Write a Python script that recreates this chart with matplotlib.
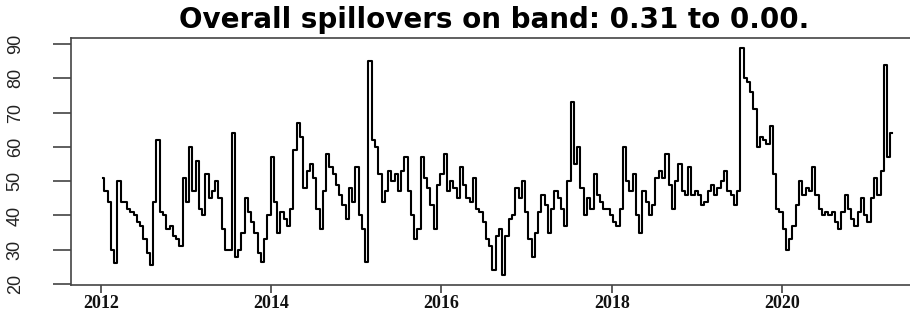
import matplotlib
matplotlib.use("Agg")
import matplotlib.pyplot as plt
import pandas as pd

# biweekly readings of the overall spillover index
spill = [51, 47, 44, 30, 26, 50, 44, 44, 42, 41,
         40, 38, 37, 33, 29, 25.5, 44, 62, 41, 40,
         36, 37, 34, 33, 31, 51, 44, 60, 47, 56,
         42, 40, 52, 45, 47, 50, 45, 36, 30, 30,
         64, 28, 30, 35, 45, 41, 38, 35, 29, 26.5,
         33, 40, 57, 44, 35, 41, 39, 37, 42, 59,
         67, 63, 48, 53, 55, 51, 42, 36, 47, 58,
         54, 52, 49, 46, 43, 39, 48, 44, 54, 40,
         36, 26.5, 85, 62, 60, 52, 44, 47, 53, 50,
         52, 47, 53, 57, 47, 40, 33, 36, 57, 51,
         48, 43, 36, 49, 52, 58, 47, 50, 48, 45,
         54, 49, 45, 44, 51, 42, 41, 38, 33, 31,
         24, 34, 36, 22.5, 34, 39, 40, 48, 45, 50,
         41, 33, 28, 35, 41, 46, 43, 35, 42, 47,
         45, 42, 37, 50, 73, 55, 60, 48, 40, 45,
         42, 52, 46, 44, 42, 42, 40, 38, 37, 42,
         60, 50, 47, 52, 40, 35, 47, 44, 40, 43,
         51, 53, 51, 58, 49, 42, 50, 55, 47, 46,
         54, 46, 47, 46, 43, 44, 47, 49, 46, 48,
         50, 53, 47, 46, 43, 47, 89, 80, 79, 76,
         71, 60, 63, 62, 61, 66, 52, 42, 41, 36,
         30, 33, 37, 43, 50, 46, 48, 47, 54, 46,
         42, 40, 41, 40, 41, 38, 36, 41, 46, 42,
         39, 37, 41, 45, 40, 38, 45, 51, 46, 53,
         84, 57, 64]

dates = pd.date_range("2012-01-08", periods=len(spill), freq="14D")
yticks = [20, 30, 40, 50, 60, 70, 80, 90]
xyears = [2012, 2014, 2016, 2018, 2020]

fig = plt.figure(figsize=(9.10, 3.18), dpi=100)
# right side of the frame is cut off in the original picture
ax = fig.add_axes([71 / 910, 1 - 285 / 318, 851 / 910, 247 / 318])

ax.plot(dates, spill, color="black", lw=1.5, drawstyle="steps-mid")

ax.set_ylim(19.7, 91.8)
ax.set_xlim(pd.Timestamp("2011-08-25"), pd.Timestamp("2021-08-25"))

ax.set_yticks(yticks)
ax.set_yticklabels([str(v) for v in yticks], rotation=90, va="center",
                   fontfamily="Liberation Sans", fontsize=13, color="#222222")
ax.set_xticks([pd.Timestamp(f"{y}-01-01") for y in xyears])
ax.set_xticklabels([str(y) for y in xyears], fontfamily="Liberation Serif",
                   fontweight="bold", fontsize=13, color="#111111")

ax.tick_params(axis="y", length=13, width=1.1, pad=21, color="#333333")
ax.tick_params(axis="x", length=6, width=1.1, pad=1, color="#333333")
for side in ["top", "bottom", "left", "right"]:
    ax.spines[side].set_color("#444444")
    ax.spines[side].set_linewidth(1.2)

fig.text(494 / 910, 1 - 28 / 318, "Overall spillovers on band: 0.31 to 0.00.",
         ha="center", va="baseline", fontfamily="DejaVu Sans",
         fontweight="bold", fontsize=20)

fig.savefig("out.png", dpi=100)
